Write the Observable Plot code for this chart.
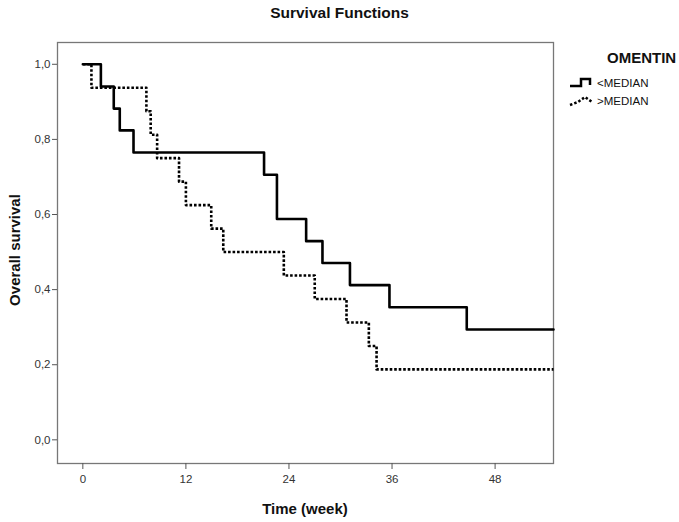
<!DOCTYPE html>
<html>
<head>
<meta charset="utf-8">
<script src="https://cdn.jsdelivr.net/npm/d3@7"></script>
<script src="https://cdn.jsdelivr.net/npm/@observablehq/plot@0.6"></script>
<style>
  html, body { margin: 0; padding: 0; background: #fff; }
  #wrap { position: relative; width: 679px; height: 522px; font-family: "Liberation Sans", Arial, sans-serif; }
  #title { position: absolute; left: 0; width: 679px; top: 4px; text-align: center; font-weight: bold; font-size: 15.5px; color: #111; }
  #xlabel { position: absolute; left: 57px; width: 496px; top: 500px; text-align: center; font-weight: bold; font-size: 15px; color: #111; }
  #ylabel { position: absolute; left: 6px; top: 250px; width: 200px; margin-left: -100px; text-align: center; font-weight: bold; font-size: 15px; color: #111;
            transform: translate(9px, -9px) rotate(-90deg); transform-origin: 50% 50%; line-height: 18px; }
  #legend { position: absolute; left: 568px; top: 49px; font-size: 11.5px; color: #111; }
  #legend .head { font-weight: bold; font-size: 15px; margin-left: 39px; margin-bottom: 8px; }
  #legend .row { display: flex; align-items: center; height: 18px; }
  #legend svg { margin-right: 0px; }
</style>
</head>
<body>
<div id="wrap">
  <div id="chart"></div>
  <div id="title">Survival Functions</div>
  <div id="xlabel">Time (week)</div>
  <div id="ylabel">Overall survival</div>
  <div id="legend">
    <div class="head">OMENTIN</div>
    <div class="row"><svg width="29" height="14"><path d="M2,10 H13 V3 H22 V9" fill="none" stroke="#000" stroke-width="2.5"/></svg><span>&lt;MEDIAN</span></div>
    <div class="row"><svg width="29" height="14"><path d="M2,11 L10,8 L17,3 L24,8" fill="none" stroke="#000" stroke-width="2.5" stroke-dasharray="2.5,2"/></svg><span>&gt;MEDIAN</span></div>
  </div>
</div>
<script>
// OMENTIN < MEDIAN (solid)
const belowTimes  = [0, 2.1, 3.6, 4.3, 5.9, 21.1, 22.6, 26.0, 27.9, 31.1, 35.7, 44.7, 54.8];
const belowSurv   = [1.0, 0.941, 0.882, 0.824, 0.765, 0.706, 0.588, 0.529, 0.471, 0.412, 0.353, 0.294, 0.294];
// OMENTIN > MEDIAN (dotted)
const aboveTimes  = [0, 1.0, 7.4, 7.9, 8.65, 11.2, 12.0, 14.95, 16.35, 23.4, 27.0, 30.7, 33.3, 34.2, 54.8];
const aboveSurv   = [1.0, 0.9375, 0.875, 0.8125, 0.75, 0.6875, 0.625, 0.5625, 0.5, 0.4375, 0.375, 0.3125, 0.25, 0.1875, 0.1875];
const xTicks = [0, 12, 24, 36, 48];
const yTicks = [0, 0.2, 0.4, 0.6, 0.8, 1.0];

const below = belowTimes.map((t, i) => ({t, s: belowSurv[i]}));
const above = aboveTimes.map((t, i) => ({t, s: aboveSurv[i]}));

const chart = Plot.plot({
  width: 679,
  height: 522,
  marginLeft: 57,
  marginRight: 126,
  marginTop: 42,
  marginBottom: 59,
  style: { fontFamily: "Liberation Sans, Arial, sans-serif", fontSize: "11.5px", background: "#fff" },
  x: { domain: [-2.95, 54.8] },
  y: { domain: [-0.063, 1.058] },
  marks: [
    Plot.frame({ stroke: "#777", strokeWidth: 1.3 }),
    Plot.axisX({ ticks: xTicks, tickSize: 6, tickPadding: 5, stroke: "#555", fill: "#333", label: null }),
    Plot.axisY({ ticks: yTicks, tickSize: 5, tickPadding: 2, stroke: "#555", fill: "#333",
      tickFormat: d => d.toFixed(1).replace(".", ","), label: null }),
    Plot.line(below, { x: "t", y: "s", curve: "step-after", stroke: "#000", strokeWidth: 2.6 }),
    Plot.line(above, { x: "t", y: "s", curve: "step-after", stroke: "#000", strokeWidth: 2.6,
      strokeDasharray: "2.6,1.9", strokeLinecap: "butt" })
  ]
});
document.getElementById("chart").appendChild(chart);
</script>
</body>
</html>
